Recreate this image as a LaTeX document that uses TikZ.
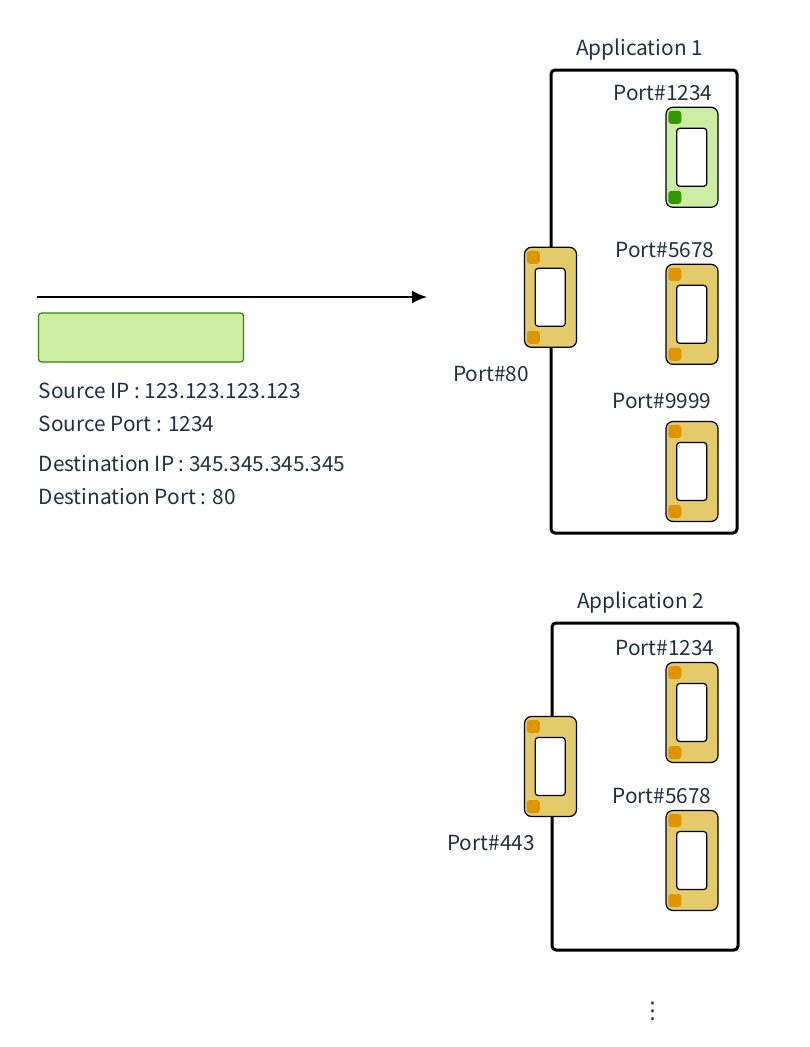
\documentclass[tikz,border=0pt]{standalone}
\usepackage{fontspec}
\setmainfont{Noto Sans CJK JP}
\newfontfamily\symbolfont{DejaVu Sans}
\usepackage{xcolor}
\usetikzlibrary{arrows.meta}
\definecolor{inkblue}{HTML}{232F3E}
\definecolor{goldfill}{HTML}{E3CB6B}
\definecolor{goldpin}{HTML}{DF9400}
\definecolor{greenfill}{HTML}{CDEDA4}
\definecolor{greenpin}{HTML}{339900}
\definecolor{greenline}{HTML}{2D8A00}
\tikzset{
    label/.style={text=inkblue, font=\fontsize{20.8}{24}\selectfont, inner sep=0pt},
    appbox/.style={draw=black, line width=3pt, rounded corners=4pt, fill=white, inner sep=0pt, outer sep=0pt},
    portbody/.style={draw=black, line width=1.2pt, rounded corners=7pt, minimum width=52pt, minimum height=100pt, inner sep=0pt, outer sep=0pt},
    porthole/.style={draw=black, line width=1.2pt, rounded corners=3pt, fill=white, minimum width=30pt, minimum height=58pt, inner sep=0pt, outer sep=0pt},
    portpin/.style={rounded corners=3pt, minimum width=13pt, minimum height=13pt, inner sep=0pt, outer sep=0pt},
}
% one port: name, position, body colour, pin colour
\newcommand{\portbox}[4]{
    \node[portbody, fill=#3](#1) at (#2){};
    \node[porthole](#1hole) at ([shift={(-0.3, 0)}]#1.center){};
    \node[portpin, fill=#4](#1pinA) at ([shift={(-17.2, -40)}]#1.center){};
    \node[portpin, fill=#4](#1pinB) at ([shift={(-17.2, 40)}]#1.center){};
}

\begin{document}
\begin{tikzpicture}[x=1pt, y=-1pt]
    \useasboundingbox(0, 0) rectangle (810, 1047);

    % packet
    \coordinate(start) at (37, 297);
    \coordinate(stop) at (427, 297);
    \draw[-{Latex[length=15pt, width=13pt]}, line width=2pt](start)--(stop);
    \node[draw=greenline, fill=greenfill, line width=1.2pt, rounded corners=3pt, minimum width=205pt, minimum height=49pt, inner sep=0pt](packet) at (141, 337.5){};

    \node[label, anchor=west](srcip) at (38.5, 390.5){Source IP : 123.123.123.123};
    \node[label, anchor=west](srcport) at (38.5, 423.5){Source Port : 1234};
    \node[label, anchor=west](dstip) at (38.5, 463.5){Destination IP : 345.345.345.345};
    \node[label, anchor=west](dstport) at (38.5, 496.5){Destination Port : 80};

    % first application
    \node[appbox, minimum width=186pt, minimum height=463pt](appone) at (644, 301.5){};
    \node[label](apponename) at (639.5, 49.5){Application 1};
    \portbox{oneA}{692, 157.3}{greenfill}{greenpin}
    \portbox{oneB}{692, 314.3}{goldfill}{goldpin}
    \portbox{oneC}{692, 471.5}{goldfill}{goldpin}
    \portbox{oneD}{550.5, 297.3}{goldfill}{goldpin}
    \node[label](oneAname) at (663, 93){Port\#1234};
    \node[label](oneBname) at (665, 250){Port\#5678};
    \node[label](oneCname) at (662, 401){Port\#9999};
    \node[label](oneDname) at (491, 374){Port\#80};

    % second application
    \node[appbox, minimum width=186pt, minimum height=327pt](apptwo) at (645, 786.5){};
    \node[label](apptwoname) at (640.5, 602.5){Application 2};
    \portbox{twoA}{692, 712.5}{goldfill}{goldpin}
    \portbox{twoB}{692, 860.5}{goldfill}{goldpin}
    \portbox{twoC}{550.5, 766.5}{goldfill}{goldpin}
    \node[label](twoAname) at (665, 648){Port\#1234};
    \node[label](twoBname) at (662, 796){Port\#5678};
    \node[label](twoCname) at (491, 843){Port\#443};

    \node[label, font=\symbolfont\fontsize{23}{26}\selectfont](more) at (652.5, 1011.5){⋮};
\end{tikzpicture}
\end{document}
